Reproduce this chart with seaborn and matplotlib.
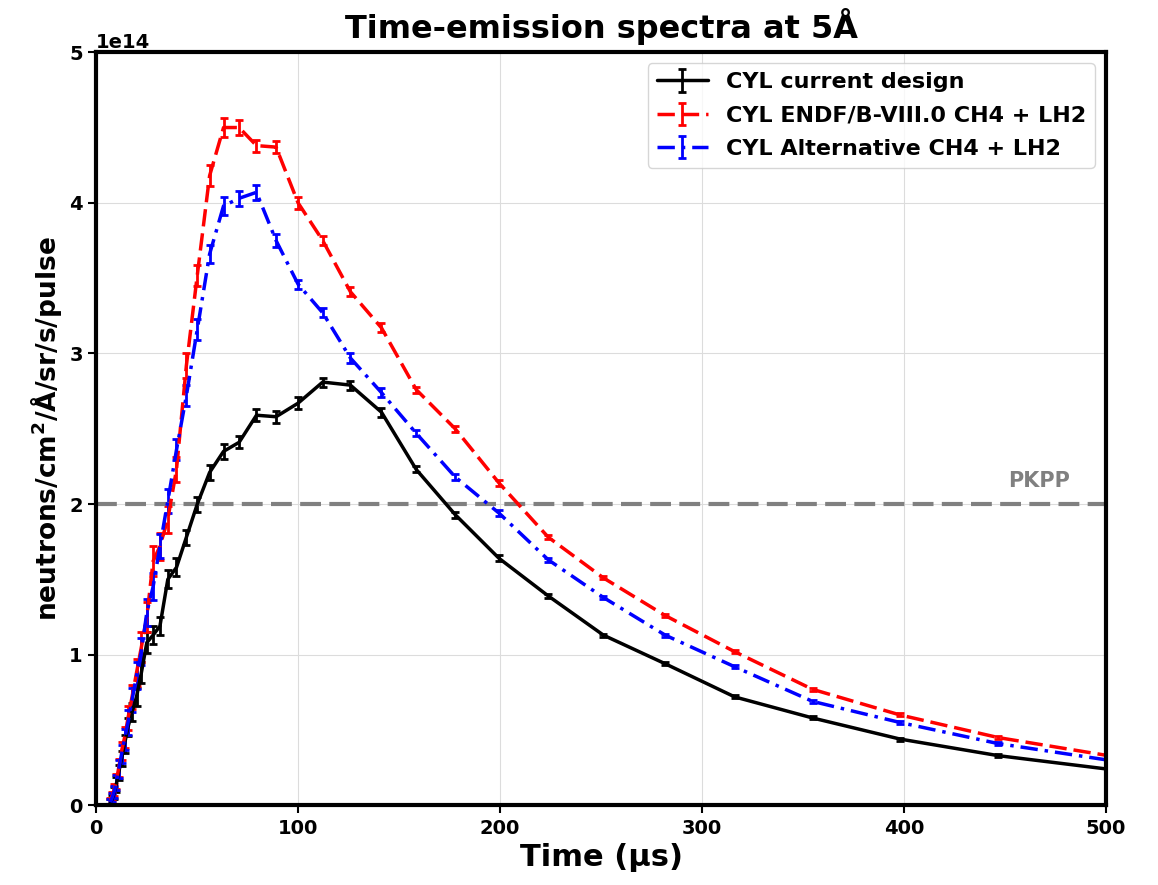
import numpy as np
import seaborn as sns
import matplotlib.pyplot as plt

# time bins (microseconds)
time_us = [7.1, 7.9, 8.9, 10.0, 11.2, 12.6, 14.1, 15.8, 17.8, 20.0,
           22.4, 25.1, 28.2, 31.6, 35.5, 39.8, 44.7, 50.1, 56.2, 63.1,
           70.8, 79.4, 89.1, 100.0, 112.2, 125.9, 141.3, 158.5, 177.8, 199.5,
           223.9, 251.2, 281.8, 316.2, 354.8, 398.1, 446.7, 501.2]

# intensities in units of 1e14
current = [0.02, 0.04, 0.08, 0.14, 0.22, 0.31, 0.41, 0.52, 0.62, 0.72,
           0.88, 1.08, 1.13, 1.19, 1.50, 1.58, 1.78, 2.00, 2.21, 2.35,
           2.41, 2.59, 2.58, 2.67, 2.81, 2.79, 2.61, 2.23, 1.93, 1.64,
           1.39, 1.13, 0.94, 0.72, 0.58, 0.44, 0.33, 0.24]
current_err = [0.02, 0.03, 0.04, 0.05, 0.05, 0.05, 0.06, 0.06, 0.06, 0.06,
               0.07, 0.07, 0.06, 0.06, 0.06, 0.06, 0.05, 0.05, 0.05, 0.05,
               0.04, 0.04, 0.04, 0.04, 0.03, 0.03, 0.03, 0.02, 0.02, 0.02,
               0.015, 0.01, 0.01, 0.01, 0.01, 0.01, 0.01, 0.01]

endf = [0.03, 0.06, 0.10, 0.16, 0.25, 0.36, 0.45, 0.58, 0.72, 0.88,
        1.05, 1.25, 1.62, 1.72, 1.90, 2.23, 2.92, 3.52, 4.18, 4.50,
        4.50, 4.38, 4.37, 4.00, 3.75, 3.41, 3.17, 2.76, 2.50, 2.14,
        1.78, 1.51, 1.26, 1.02, 0.77, 0.60, 0.45, 0.33]
endf_err = [0.02, 0.03, 0.04, 0.05, 0.06, 0.06, 0.07, 0.08, 0.08, 0.09,
            0.10, 0.10, 0.10, 0.09, 0.09, 0.08, 0.08, 0.07, 0.07, 0.06,
            0.05, 0.04, 0.04, 0.04, 0.03, 0.03, 0.03, 0.02, 0.02, 0.02,
            0.015, 0.01, 0.01, 0.01, 0.01, 0.01, 0.01, 0.01]

alternative = [0.02, 0.05, 0.09, 0.15, 0.24, 0.34, 0.44, 0.55, 0.70, 0.86,
               1.02, 1.28, 1.45, 1.72, 2.02, 2.36, 2.72, 3.16, 3.66, 3.98,
               4.03, 4.07, 3.75, 3.46, 3.27, 2.97, 2.74, 2.47, 2.18, 1.94,
               1.63, 1.38, 1.13, 0.92, 0.69, 0.55, 0.41, 0.30]
alternative_err = [0.02, 0.03, 0.04, 0.05, 0.06, 0.06, 0.07, 0.08, 0.08, 0.09,
                   0.09, 0.09, 0.09, 0.08, 0.08, 0.07, 0.07, 0.07, 0.06, 0.06,
                   0.05, 0.05, 0.04, 0.03, 0.03, 0.03, 0.03, 0.02, 0.02, 0.02,
                   0.015, 0.01, 0.01, 0.01, 0.01, 0.01, 0.01, 0.01]

labels = ['CYL current design', 'CYL ENDF/B-VIII.0 CH4 + LH2', 'CYL Alternative CH4 + LH2']
pkpp_level = 2.0

sns.set_style('whitegrid', {'grid.color': '#dcdcdc', 'axes.edgecolor': 'black',
                            'text.color': 'black', 'axes.labelcolor': 'black',
                            'xtick.color': 'black', 'ytick.color': 'black'})
plt.rcParams['font.family'] = ['DejaVu Sans']
plt.rcParams['font.weight'] = 'bold'
plt.rcParams['axes.labelweight'] = 'bold'
plt.rcParams['axes.titleweight'] = 'bold'

fig, ax = plt.subplots(figsize=(11.58, 8.85), dpi=100)
fig.subplots_adjust(left=0.083, right=0.955, top=0.941, bottom=0.09)

scale = 1e14
t = np.array(time_us)
series = [(current, current_err, 'black', '-'),
          (endf, endf_err, 'red', (0, (5, 2))),
          (alternative, alternative_err, 'blue', (0, (5, 2, 1, 2)))]
for (vals, errs, color, ls), lab in zip(series, labels):
    ax.errorbar(t, np.array(vals) * scale, yerr=np.array(errs) * scale,
                color=color, linestyle=ls, linewidth=2.5, elinewidth=2,
                capsize=3, capthick=2, label=lab)

ax.axhline(pkpp_level * scale, color='gray', linewidth=3, linestyle=(0, (5, 2)))
ax.text(467, pkpp_level * scale + 0.09 * scale, 'PKPP', color='gray',
        fontsize=15, fontweight='bold', ha='center', va='bottom')

ax.set_xlim(0, 500)
ax.set_ylim(0, 5 * scale)
ax.set_xticks([0, 100, 200, 300, 400, 500])
ax.set_yticks([0, 1e14, 2e14, 3e14, 4e14, 5e14])
ax.tick_params(axis='both', labelsize=14, direction='out', length=6, width=1.5,
               bottom=True, left=True, colors='black')
for lbl in ax.get_xticklabels() + ax.get_yticklabels():
    lbl.set_fontweight('bold')
ax.yaxis.get_offset_text().set_fontsize(14)
ax.yaxis.get_offset_text().set_fontweight('bold')
for sp in ax.spines.values():
    sp.set_linewidth(3)
    sp.set_color('black')

ax.set_title('Time-emission spectra at 5Å', fontsize=23, fontweight='bold', color='black', pad=10)
ax.set_xlabel('Time (µs)', fontsize=22, fontweight='bold', color='black')
ax.set_ylabel('neutrons/cm$^2$/Å/sr/s/pulse', fontsize=19, fontweight='bold', color='black')

leg = ax.legend(loc='upper right', fontsize=16, frameon=True, handlelength=2.3,
                labelspacing=0.6)
for txt in leg.get_texts():
    txt.set_fontweight('bold')
    txt.set_color('black')

plt.savefig('out.png', dpi=100)
plt.close()
